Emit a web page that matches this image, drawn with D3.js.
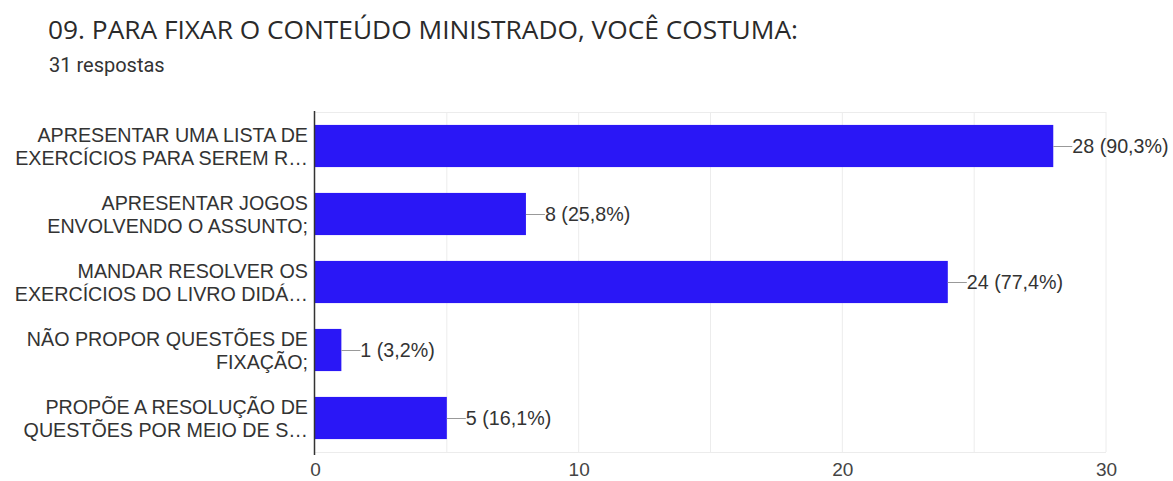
<!DOCTYPE html>
<html>
<head>
<meta charset="utf-8">
<script src="https://cdn.jsdelivr.net/npm/d3@7"></script>
<style>
  html, body { margin: 0; padding: 0; background: #fff; }
  svg { display: block; }
</style>
</head>
<body>
<svg id="chart" width="1173" height="481"></svg>
<script>
// Survey question 09: how the teacher consolidates the content
const categories = [
  ["APRESENTAR UMA LISTA DE", "EXERCÍCIOS PARA SEREM R…"],
  ["APRESENTAR JOGOS", "ENVOLVENDO O ASSUNTO;"],
  ["MANDAR RESOLVER OS", "EXERCÍCIOS DO LIVRO DIDÁ…"],
  ["NÃO PROPOR QUESTÕES DE", "FIXAÇÃO;"],
  ["PROPÕE A RESOLUÇÃO DE", "QUESTÕES POR MEIO DE S…"]
];
const counts = [28, 8, 24, 1, 5];
const percents = ["90,3%", "25,8%", "77,4%", "3,2%", "16,1%"];
const tickValues = [0, 10, 20, 30];
const gridValues = [5, 10, 15, 20, 25, 30];

const svg = d3.select("#chart");
const margin = { left: 315, right: 67, top: 112, bottom: 29 };
const W = 1173, H = 481;
const labelFont = "'Liberation Sans', Arial, sans-serif";

svg.append("text")
  .attr("x", 48).attr("y", 39)
  .attr("font-family", "'Open Sans', Roboto, sans-serif")
  .attr("font-size", 26.3)
  .attr("fill", "#2a2a2a")
  .text("09. PARA FIXAR O CONTEÚDO MINISTRADO, VOCÊ COSTUMA:");

svg.append("text")
  .attr("x", 49).attr("y", 72)
  .attr("font-family", "Roboto, 'Noto Sans', sans-serif")
  .attr("font-size", 20)
  .attr("fill", "#333")
  .text("31 respostas");

const x = d3.scaleLinear().domain([0, 30]).range([margin.left, W - margin.right]);
const y = d3.scaleBand()
  .domain(d3.range(categories.length))
  .range([margin.top, H - margin.bottom])
  .paddingInner(0.38).paddingOuter(0.19);

// light grid
svg.append("g").selectAll("line").data(gridValues).join("line")
  .attr("x1", d => x(d)).attr("x2", d => x(d))
  .attr("y1", margin.top).attr("y2", H - margin.bottom)
  .attr("stroke", "#ececec").attr("stroke-width", 1);
svg.append("line")
  .attr("x1", x(0)).attr("x2", x(30))
  .attr("y1", margin.top + 0.5).attr("y2", margin.top + 0.5)
  .attr("stroke", "#ececec");
svg.append("line")
  .attr("x1", x(0)).attr("x2", x(30))
  .attr("y1", H - margin.bottom + 0.5).attr("y2", H - margin.bottom + 0.5)
  .attr("stroke", "#ececec");

// bars
svg.append("g").selectAll("rect").data(counts).join("rect")
  .attr("x", x(0))
  .attr("y", (d, i) => y(i))
  .attr("width", d => x(d) - x(0))
  .attr("height", y.bandwidth())
  .attr("fill", "#2a17f6");

// value annotations with leader lines
const ann = svg.append("g").selectAll("g").data(counts).join("g")
  .attr("transform", (d, i) => `translate(${x(d)},${y(i) + y.bandwidth() / 2})`);
ann.append("line")
  .attr("x1", 0).attr("x2", 19).attr("y1", 0.5).attr("y2", 0.5)
  .attr("stroke", "#999").attr("stroke-width", 1);
ann.append("text")
  .attr("x", 19).attr("dy", "0.36em")
  .attr("font-family", labelFont)
  .attr("font-size", 19.7)
  .attr("fill", "#333")
  .text((d, i) => `${d} (${percents[i]})`);

// category labels, two lines each
const cat = svg.append("g").selectAll("text").data(categories).join("text")
  .attr("text-anchor", "end")
  .attr("font-family", labelFont)
  .attr("font-size", 19.7)
  .attr("fill", "#333");
cat.each(function (lines, i) {
  const c = y(i) + y.bandwidth() / 2;
  d3.select(this).selectAll("tspan").data(lines).join("tspan")
    .attr("x", 308)
    .attr("y", (l, j) => c - 4.5 + j * 23.5)
    .text(l => l);
});

// bottom axis tick labels
const axis = d3.axisBottom(x).tickValues(tickValues).tickSize(0).tickPadding(8);
const ag = svg.append("g")
  .attr("transform", `translate(0,${H - margin.bottom + 3})`)
  .call(axis);
ag.select(".domain").remove();
ag.selectAll("text")
  .attr("font-family", labelFont)
  .attr("font-size", 19)
  .attr("fill", "#444");

// vertical baseline at zero
svg.append("line")
  .attr("x1", x(0) - 0.5).attr("x2", x(0) - 0.5)
  .attr("y1", margin.top - 1).attr("y2", H - margin.bottom + 3)
  .attr("stroke", "#333").attr("stroke-width", 1.5);
</script>
</body>
</html>
